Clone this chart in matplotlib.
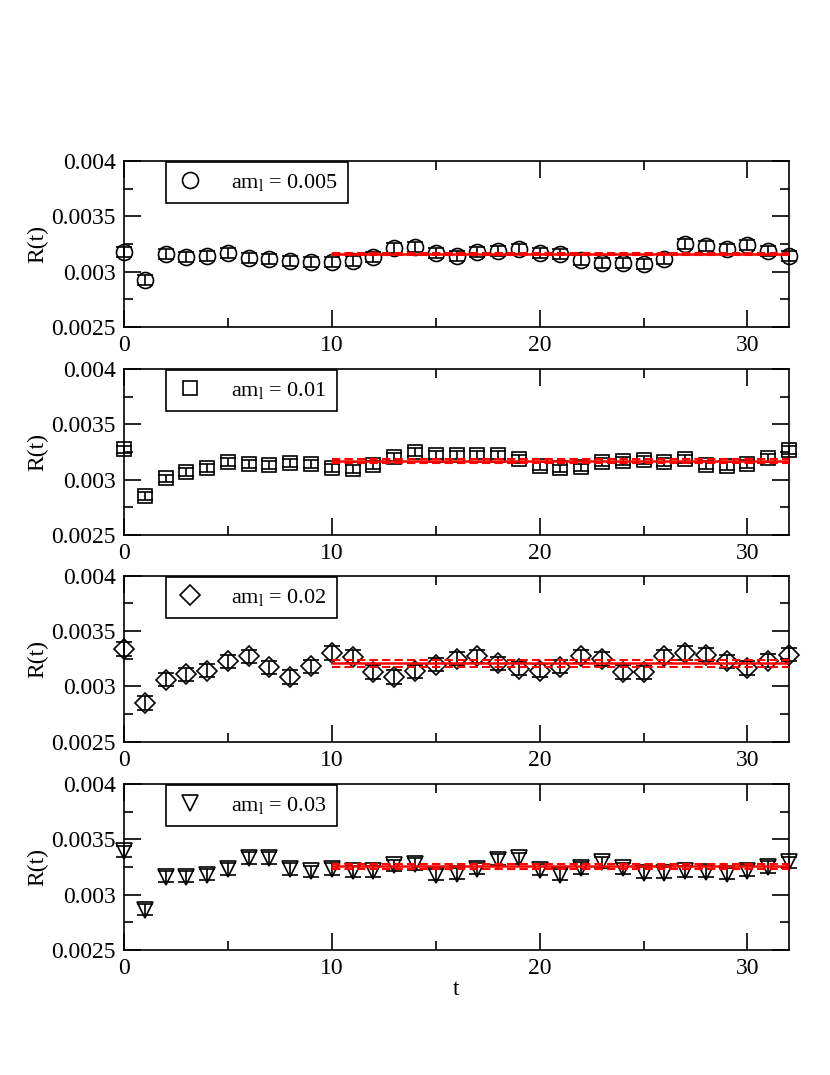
import numpy as np
import matplotlib
matplotlib.use("Agg")
import matplotlib.pyplot as plt

plt.rcParams['font.family'] = ['Liberation Serif', 'DejaVu Serif']
plt.rcParams['mathtext.fontset'] = 'custom'
plt.rcParams['mathtext.rm'] = 'Liberation Serif'
plt.rcParams['mathtext.it'] = 'Liberation Serif:italic'

# dados
t = np.arange(33)

r_005 = [0.00318, 0.002925, 0.003157, 0.003136, 0.003142, 0.003166, 0.003127, 0.003111,
         0.003099, 0.003084, 0.00309, 0.003096, 0.003136, 0.003211, 0.00322, 0.003172,
         0.003142, 0.003175, 0.00319, 0.003208, 0.003166, 0.003157, 0.003105, 0.003081,
         0.003075, 0.003069, 0.003117, 0.003247, 0.003235, 0.003205, 0.003244, 0.00319,
         0.003142]
r_01 = [0.003274, 0.002855, 0.003012, 0.003072, 0.003108, 0.003157, 0.003145, 0.003133,
        0.003148, 0.003142, 0.003108, 0.003096, 0.003133, 0.003208, 0.003247, 0.003223,
        0.003226, 0.003223, 0.003223, 0.003184, 0.003127, 0.003102, 0.003111, 0.003157,
        0.003172, 0.003175, 0.003163, 0.003187, 0.003133, 0.003123, 0.003142, 0.003199,
        0.003268]
r_02 = [0.003337, 0.00285, 0.00306, 0.003111, 0.003142, 0.003226, 0.003271, 0.003172,
        0.003084, 0.003181, 0.003301, 0.003268, 0.00313, 0.003084, 0.003136, 0.003196,
        0.00325, 0.003271, 0.003208, 0.00316, 0.003142, 0.003178, 0.003271, 0.003247,
        0.00313, 0.003127, 0.003271, 0.003301, 0.003286, 0.003226, 0.003166, 0.003232,
        0.003286]
r_03 = [0.003392, 0.002864, 0.00316, 0.00316, 0.003181, 0.003232, 0.003331, 0.003331,
        0.003232, 0.003211, 0.003232, 0.003211, 0.003211, 0.003265, 0.003277, 0.003181,
        0.003187, 0.003235, 0.003316, 0.003328, 0.003226, 0.003181, 0.003241, 0.003292,
        0.003238, 0.003196, 0.003196, 0.003211, 0.003205, 0.003187, 0.003217, 0.00325,
        0.003292]

erros = [0.000045, 0.000035, 0.00006, 0.00005]
fit_val = [0.00316, 0.003169, 0.003208, 0.003256]
fit_err = [0.000012, 0.000015, 0.00003, 0.00002]
fit_range = [10, 32]

series = [r_005, r_01, r_02, r_03]
labels = [r'am$_{\rm l}$ = 0.005', r'am$_{\rm l}$ = 0.01',
          r'am$_{\rm l}$ = 0.02', r'am$_{\rm l}$ = 0.03']
markers = ['o', 's', 'D', 'v']
msizes = [11.5, 10.5, 10, 11.5]

fs = 17

fig = plt.figure(figsize=(8.3, 10.75), dpi=100)
bottoms = [0.6958, 0.5023, 0.3100, 0.1163]

for i in range(4):
    ax = fig.add_axes([0.1494, bottoms[i], 0.8012, 0.1544])
    y = np.array(series[i])
    ax.errorbar(t, y, yerr=erros[i], fmt='none', ecolor='black', elinewidth=1.2,
                capsize=5.5, capthick=1.2, clip_on=False, zorder=3)
    ax.plot(t, y, linestyle='none', marker=markers[i], markersize=msizes[i],
            markerfacecolor='none', markeredgecolor='black', markeredgewidth=1.2,
            label=labels[i], clip_on=False, zorder=4)

    # ajuste constante
    xf = np.array(fit_range)
    ax.plot(xf, [fit_val[i]] * 2, color='red', lw=1.8, zorder=5)
    ax.plot(xf, [fit_val[i] + fit_err[i]] * 2, color='red', lw=1.5, ls=(0, (4, 2)), zorder=5)
    ax.plot(xf, [fit_val[i] - fit_err[i]] * 2, color='red', lw=1.5, ls=(0, (4, 2)), zorder=5)

    ax.set_xlim(0, 32)
    ax.set_ylim(0.0025, 0.004)
    ax.set_xticks([0, 10, 20, 30])
    ax.set_xticks([5, 15, 25], minor=True)
    ax.set_yticks([0.0025, 0.003, 0.0035, 0.004])
    ax.set_yticklabels(['0.0025', '0.003', '0.0035', '0.004'])
    ax.set_yticks([0.00275, 0.00325, 0.00375], minor=True)
    ax.tick_params(which='both', direction='in', top=True, right=True,
                   labelsize=fs, width=1.2)
    ax.tick_params(which='major', length=12, pad=6)
    ax.tick_params(which='minor', length=6.5)
    for s in ax.spines.values():
        s.set_linewidth(1.2)
    ax.set_ylabel('R(t)', fontsize=fs, labelpad=2)
    if i == 3:
        ax.set_xlabel('t', fontsize=fs, labelpad=0)

    leg = ax.legend(loc='upper left', bbox_to_anchor=(0.063, 0.995), fontsize=16,
                    frameon=True, fancybox=False, framealpha=1, edgecolor='black',
                    borderaxespad=0, handlelength=1.3, handletextpad=1.2,
                    borderpad=0.45, numpoints=1)
    leg.get_frame().set_linewidth(1.2)
    leg.set_zorder(10)

plt.savefig('out.png', dpi=100)
